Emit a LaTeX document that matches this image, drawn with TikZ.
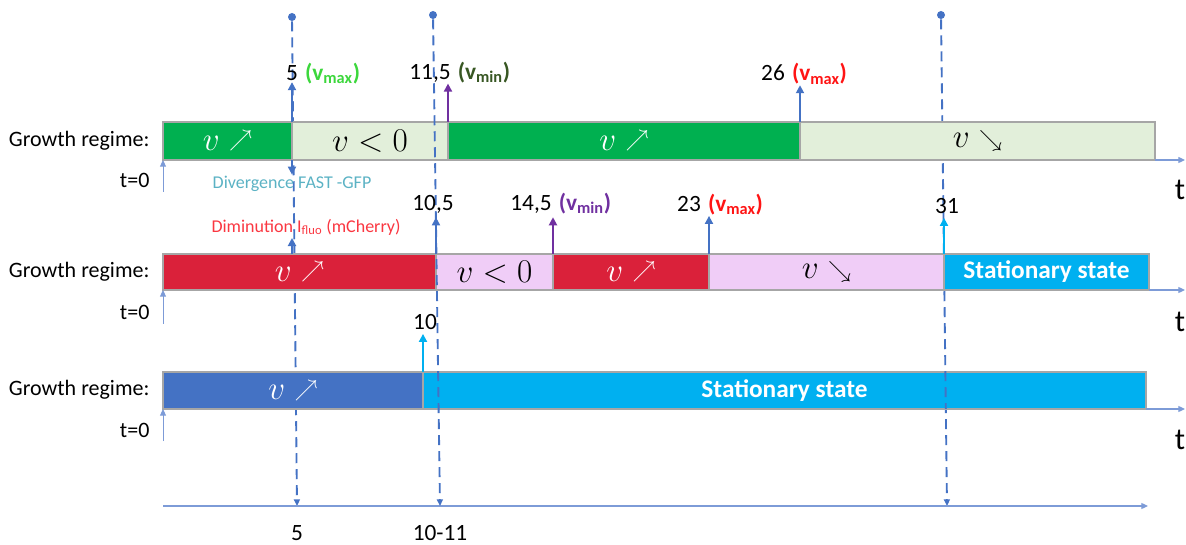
\documentclass[tikz,border=0pt]{standalone}
\usepackage{fontspec}
\setmainfont{Carlito}
\usetikzlibrary{arrows.meta}
\definecolor{grn}{RGB}{0,176,80}
\definecolor{lgrn}{RGB}{226,239,218}
\definecolor{crim}{RGB}{218,33,58}
\definecolor{pnk}{RGB}{240,205,247}
\definecolor{cyn}{RGB}{0,176,240}
\definecolor{blu}{RGB}{68,114,196}
\definecolor{segline}{RGB}{166,166,166}
\definecolor{axisblue}{RGB}{125,155,215}
\definecolor{vmaxg}{RGB}{60,215,60}
\definecolor{vmind}{RGB}{56,87,35}
\definecolor{vminp}{RGB}{112,48,160}
\definecolor{vmaxr}{RGB}{255,20,20}
\definecolor{divc}{RGB}{91,178,196}
\definecolor{dimc}{RGB}{250,55,65}
% 增长/减速符号
\newcommand{\vup}{$v\;\raisebox{2.5pt}{\fontsize{17}{18}\selectfont$\nearrow$}$}
\newcommand{\vdown}{$v\;\raisebox{0.5pt}{\fontsize{17}{18}\selectfont$\searrow$}$}
\begin{document}
\begin{tikzpicture}[x=0.75pt, y=-0.75pt, >={Triangle[length=5pt,width=4.5pt]},
    seg/.style={draw=segline, line width=0.8pt, inner sep=0pt, outer sep=0pt, anchor=north west, font=\fontsize{24}{28}\selectfont},
    row1/.style={seg, minimum height=28.5pt},
    row2/.style={seg, minimum height=27pt},
    row3/.style={seg, minimum height=27.75pt},
    stat/.style={text=white, fill=cyn, font=\fontsize{19}{22}\selectfont\bfseries},
    gr/.style={font=\fontsize{16.5}{20}\selectfont, inner sep=1pt, anchor=east},
    lab/.style={font=\fontsize{17.5}{20}\selectfont, inner sep=1pt},
    small/.style={font=\fontsize{13.5}{16}\selectfont, inner sep=1pt},
    tlab/.style={font=\fontsize{23}{26}\selectfont},
    axis/.style={axisblue, line width=0.9pt, ->},
    vline/.style={blu, dashed, dash pattern=on 7.5pt off 4.5pt, line width=1.4pt, ->},
    dot/.style={circle, fill=blu, inner sep=0pt, minimum size=6pt},
    tickarrow/.style={line width=1.4pt, -{Triangle[length=6pt,width=6pt]}}]
    \useasboundingbox (0,0) rectangle (1186,545);

    % 垂直虚线 (在色条之后)
    \node[dot] (d1) at (292,17) {};
    \node[dot] (d2) at (433,15) {};
    \node[dot] (d3) at (941,15) {};
    \coordinate (e1) at (297,506);
    \coordinate (e2) at (440,506);
    \coordinate (e3) at (947,506);
    \draw[vline] (d1) -- (e1);
    \draw[vline] (d3) -- (e3);

    % 底部时间轴
    \coordinate (a0) at (163,506);
    \coordinate (a1) at (1148,506);
    \draw[axis] (a0) -- (a1);
    \node[lab] (b5) at (297,533) {5};
    \node[lab] (b1011) at (440,533) {10-11};

    % 第一行
    \node[gr] (gr1) at (151,141) {Growth regime:};
    \node[row1, fill=grn, text=white, minimum width=96.75pt] (g1) at (163,122) {\vup};
    \node[row1, fill=lgrn, minimum width=117pt] (g2) at (g1.north east) {$v<0$};
    \node[row1, fill=grn, text=white, minimum width=264pt] (g3) at (g2.north east) {\vup};
    \node[row1, fill=lgrn, minimum width=266.25pt] (g4) at (g3.north east) {\vdown};
    \coordinate (t1) at (1185,160);
    \draw[axis] (g4.south east) -- (t1);
    \node[tlab] (tt1) at (1180,190) {t};
    \node[gr] (z1) at (151,180) {t=0};
    \coordinate (s1) at (163,192);
    \draw[axisblue, line width=0.7pt, ->] (s1) -- (g1.south west);

    % 第二行
    \node[gr] (gr2) at (151,272) {Growth regime:};
    \node[row2, fill=crim, text=white, minimum width=204.75pt] (r1) at (163,254) {\vup};
    \node[row2, fill=pnk, minimum width=87.75pt] (r2) at (r1.north east) {$v<0$};
    \node[row2, fill=crim, text=white, minimum width=117pt] (r3) at (r2.north east) {\vup};
    \node[row2, fill=pnk, minimum width=176.25pt] (r4) at (r3.north east) {\vdown};
    \node[row2, stat, minimum width=153.75pt] (r5) at (r4.north east) {Stationary state};
    \coordinate (t2) at (1185,290);
    \draw[axis] (r5.south east) -- (t2);
    \node[tlab] (tt2) at (1180,322) {t};
    \node[gr] (z2) at (151,312) {t=0};
    \coordinate (s2) at (163,324);
    \draw[axisblue, line width=0.7pt, ->] (s2) -- (r1.south west);

    % 第三行
    \node[gr] (gr3) at (151,390) {Growth regime:};
    \node[row3, fill=blu, text=white, minimum width=195pt] (c1) at (163,372) {\vup};
    \node[row3, stat, minimum width=542.25pt] (c2) at (c1.north east) {Stationary state};
    \coordinate (t3) at (1185,409);
    \draw[axis] (c2.south east) -- (t3);
    \node[tlab] (tt3) at (1180,440) {t};
    \node[gr] (z3) at (151,430) {t=0};
    \coordinate (s3) at (163,441);
    \draw[axisblue, line width=0.7pt, ->] (s3) -- (c1.south west);

    % 虚线 2 在色条之上, 虚线 3 只在第三行之上
    \draw[vline] (d2) -- (e2);
    \begin{scope}
        \clip (c2.north west) rectangle (c2.south east);
        \draw[vline] (d3) -- (e3);
    \end{scope}

    % 第一行标记
    \node[lab] (n5) at (292,73) {5};
    \node[lab, anchor=base west, text=vmaxg] (n5v) at ([xshift=3pt]n5.base east) {\textbf{(v\textsubscript{max})}};
    \draw[tickarrow, blu] (g1.north east) -- (n5.south);
    \node[lab] (n115) at (430,73) {11,5};
    \node[lab, anchor=base west, text=vmind] (n115v) at ([xshift=3pt]n115.base east) {\textbf{(v\textsubscript{min})}};
    \draw[tickarrow, vminp] (g2.north east) -- (g2.north east |- n115.south);
    \node[lab] (n26) at (773,73) {26};
    \node[lab, anchor=base west, text=vmaxr] (n26v) at ([xshift=3pt]n26.base east) {\textbf{(v\textsubscript{max})}};
    \draw[tickarrow, blu] (g3.north east) -- ([yshift=-2pt]g3.north east |- n26.south);

    % 荧光说明
    \node[small, text=divc] (dv) at (292,184) {Divergence FAST -GFP};
    \draw[tickarrow, blu] (g1.south east) -- (dv.north);
    \node[small, text=dimc] (dm) at (306,227) {Diminution I\textsubscript{fluo} (mCherry)};
    \draw[tickarrow, blu] (dv |- r1.north) -- ([yshift=-1pt]dv |- dm.south);

    % 第二行标记
    \node[lab] (m105) at (433,204) {10,5};
    \draw[tickarrow, blu] (r1.north east) -- ([yshift=-2pt]r1.north east |- m105.south);
    \node[lab] (m145) at (531,204) {14,5};
    \node[lab, anchor=base west, text=vminp] (m145v) at ([xshift=3pt]m145.base east) {\textbf{(v\textsubscript{min})}};
    \draw[tickarrow, vminp] (r2.north east) -- ([yshift=-2pt]r2.north east |- m145.south);
    \node[lab] (m23) at (689,204) {23};
    \node[lab, anchor=base west, text=vmaxr] (m23v) at ([xshift=3pt]m23.base east) {\textbf{(v\textsubscript{max})}};
    \draw[tickarrow, blu] (r3.north east) -- ([yshift=-2pt]r3.north east |- m23.south);
    \node[lab] (m31) at (947,206) {31};
    \draw[tickarrow, cyn] (r4.north east) -- ([yshift=-2pt]r4.north east |- m31.south);

    % 第三行标记
    \node[lab] (k10) at (425,322) {10};
    \draw[tickarrow, cyn] (c1.north east) -- ([yshift=-2pt]c1.north east |- k10.south);
\end{tikzpicture}
\end{document}
